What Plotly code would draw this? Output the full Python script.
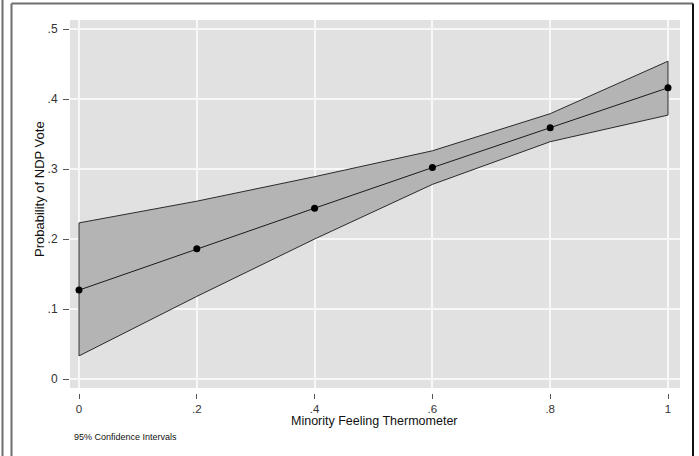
import plotly.graph_objects as go

# Data
x_vals = [0, 0.2, 0.4, 0.6, 0.8, 1.0]
pred = [0.127, 0.186, 0.244, 0.302, 0.359, 0.416]
upper = [0.223, 0.254, 0.289, 0.326, 0.379, 0.454]
lower = [0.033, 0.118, 0.200, 0.278, 0.339, 0.377]
x_ticks = [0, 0.2, 0.4, 0.6, 0.8, 1.0]
x_tick_labels = ["0", ".2", ".4", ".6", ".8", "1"]
y_ticks = [0, 0.1, 0.2, 0.3, 0.4, 0.5]
y_tick_labels = ["0", ".1", ".2", ".3", ".4", ".5"]

W, H = 699, 456
FONT = "Liberation Sans, Arial, sans-serif"

fig = go.Figure()

# CI band as closed polygon
fig.add_trace(go.Scatter(
    x=x_vals + x_vals[::-1] + [x_vals[0]],
    y=upper + lower[::-1] + [upper[0]],
    mode="lines", fill="toself", fillcolor="#b4b4b4",
    line=dict(color="#2a2a2a", width=1), hoverinfo="skip", showlegend=False,
))
# prediction line + markers
fig.add_trace(go.Scatter(
    x=x_vals, y=pred, mode="lines+markers",
    line=dict(color="#1a1a1a", width=1),
    marker=dict(color="black", size=7), showlegend=False,
))

px_l, px_r, px_t, px_b = 70, 680, 20, 388

def fx(p):
    return p / W

def fy(p):
    return 1 - p / H

fig.update_layout(
    width=W, height=H, autosize=False,
    margin=dict(l=0, r=0, t=0, b=0),
    paper_bgcolor="white", plot_bgcolor="#e1e1e1",
    font=dict(family=FONT, color="#333333"),
    xaxis=dict(
        domain=[fx(px_l), fx(px_r)],
        range=[(px_l - 79) / 589, (px_r - 79) / 589],
        tickvals=x_ticks, ticktext=x_tick_labels,
        ticks="outside", ticklen=5, tickcolor="#555555", tickwidth=1,
        showgrid=True, gridcolor="#f7f7f7", gridwidth=1.5,
        zeroline=False, showline=False,
        anchor="free", position=fy(393),
        tickfont=dict(size=11.5, color="#333333"),
    ),
    yaxis=dict(
        domain=[fy(px_b), fy(px_t)],
        range=[(379 - px_b) / 700, (379 - px_t) / 700],
        tickvals=y_ticks, ticktext=y_tick_labels,
        ticks="outside", ticklen=6, tickcolor="#555555", tickwidth=1,
        ticklabelstandoff=3,
        showgrid=True, gridcolor="#f7f7f7", gridwidth=1.5,
        zeroline=False, showline=False,
        anchor="free", position=fx(69),
        tickfont=dict(size=12, color="#333333"),
    ),
)

fig.add_annotation(
    text="Probability of NDP Vote", textangle=-90,
    x=fx(39), y=fy(189), xref="paper", yref="paper",
    showarrow=False, xanchor="center", yanchor="middle",
    font=dict(size=13, color="#111111", family=FONT),
)
fig.add_annotation(
    text="Minority Feeling Thermometer",
    x=fx(374), y=fy(421), xref="paper", yref="paper",
    showarrow=False, xanchor="center", yanchor="middle",
    font=dict(size=12.5, color="#111111", family=FONT),
)
fig.add_annotation(
    text="95% Confidence Intervals",
    x=fx(72), y=fy(437), xref="paper", yref="paper",
    showarrow=False, xanchor="left", yanchor="middle",
    font=dict(size=9, color="#111111", family=FONT),
)

# frame lines (cropped screenshot borders)
fig.add_shape(type="line", xref="paper", yref="paper",
              x0=fx(2.5), x1=fx(2.5), y0=0, y1=1,
              line=dict(color="#6e6e6e", width=2))
fig.add_shape(type="line", xref="paper", yref="paper",
              x0=fx(11.5), x1=fx(11.5), y0=0, y1=fy(3.5),
              line=dict(color="#6e6e6e", width=2))
fig.add_shape(type="line", xref="paper", yref="paper",
              x0=fx(11.5), x1=fx(693), y0=fy(3.5), y1=fy(3.5),
              line=dict(color="#6e6e6e", width=2))
fig.add_shape(type="line", xref="paper", yref="paper",
              x0=fx(693), x1=fx(693), y0=0, y1=fy(3.5),
              line=dict(color="#111111", width=2))

fig.write_html(
    "out.html",
    config={"displayModeBar": False},
    post_script="document.body.style.margin='0';document.body.style.overflow='hidden';",
)
